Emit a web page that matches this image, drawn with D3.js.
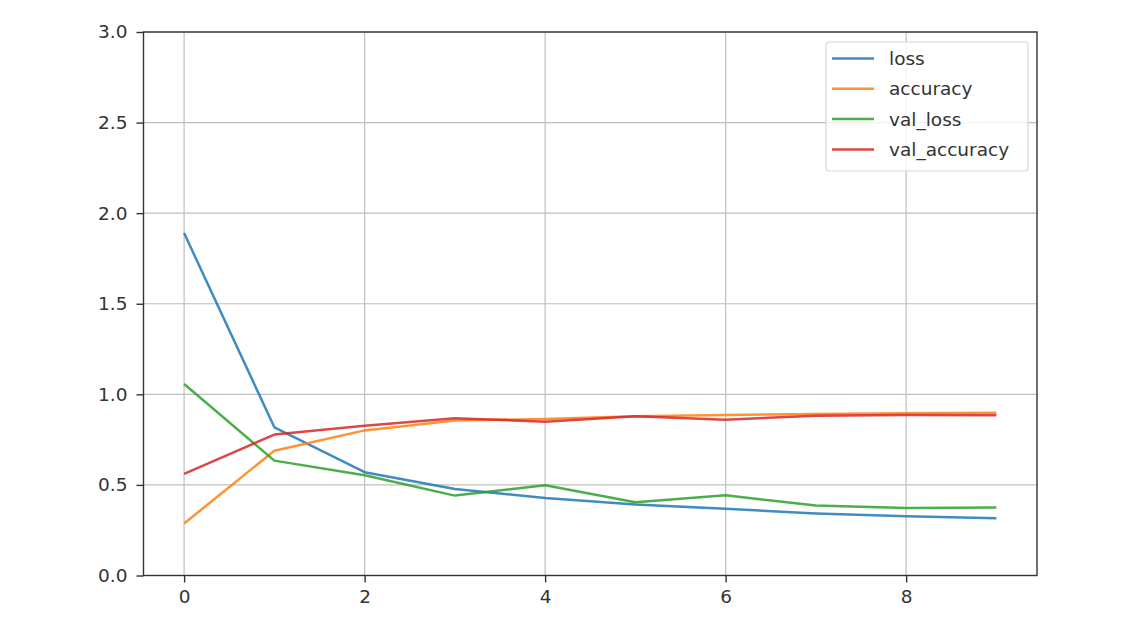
<!DOCTYPE html>
<html>
<head>
<meta charset="utf-8">
<script src="https://cdn.jsdelivr.net/npm/d3@7"></script>
<style>
  body { margin: 0; background: #fff; }
  svg text { font-family: "DejaVu Sans", sans-serif; }
</style>
</head>
<body>
<svg id="chart" width="1136" height="618"></svg>
<script>
var epochs = [0, 1, 2, 3, 4, 5, 6, 7, 8, 9];
var loss = [1.89, 0.818, 0.570, 0.478, 0.428, 0.392, 0.368, 0.342, 0.327, 0.316];
var accuracy = [0.287, 0.689, 0.801, 0.855, 0.864, 0.879, 0.886, 0.892, 0.895, 0.898];
var valLoss = [1.057, 0.634, 0.553, 0.441, 0.498, 0.404, 0.443, 0.386, 0.373, 0.375];
var valAccuracy = [0.561, 0.778, 0.827, 0.868, 0.849, 0.879, 0.860, 0.882, 0.886, 0.884];
var xTicks = [0, 2, 4, 6, 8];
var yTicks = [0, 0.5, 1.0, 1.5, 2.0, 2.5, 3.0];

var series = [
    { name: 'loss', values: loss, color: '#1f77b4' },
    { name: 'accuracy', values: accuracy, color: '#ff7f0e' },
    { name: 'val_loss', values: valLoss, color: '#2ca02c' },
    { name: 'val_accuracy', values: valAccuracy, color: '#d62728' }
];

var svg = d3.select('#chart'),
    plotLeft = 143.5, plotRight = 1037, plotTop = 32, plotBottom = 575.5,
    fontSize = '18.5px';

var x = d3.scaleLinear().domain([-0.45, 9.45]).range([plotLeft, plotRight]);
var y = d3.scaleLinear().domain([0, 3]).range([plotBottom, plotTop]);

// grid
var grid = svg.append('g').attr('stroke', '#b0b0b0').attr('stroke-width', 1.2).attr('opacity', 0.8);
xTicks.forEach(function( t ){
    grid.append('line').attr('x1', x(t)).attr('x2', x(t)).attr('y1', plotTop).attr('y2', plotBottom);
});
yTicks.forEach(function( t ){
    grid.append('line').attr('x1', plotLeft).attr('x2', plotRight).attr('y1', y(t)).attr('y2', y(t));
});

// axes
var xAxis = d3.axisBottom(x).tickValues(xTicks).tickFormat(d3.format('d')).tickSize(7).tickPadding(7);
var yAxis = d3.axisLeft(y).tickValues(yTicks).tickFormat(d3.format('.1f')).tickSize(7).tickPadding(9);

var gx = svg.append('g').attr('transform', 'translate(0,' + plotBottom + ')').call(xAxis);
var gy = svg.append('g').attr('transform', 'translate(' + plotLeft + ',0)').call(yAxis);
[gx, gy].forEach(function( g ){
    g.select('.domain').remove();
    g.selectAll('line').attr('stroke', '#333').attr('stroke-width', 1.4);
    g.selectAll('text').attr('fill', '#333').style('font-size', fontSize).style('font-family', '"DejaVu Sans", sans-serif');
});

// lines
var line = d3.line()
    .x(function( d, i ){ return x(epochs[i]); })
    .y(function( d ){ return y(d); });

series.forEach(function( s ){
    svg.append('path')
        .attr('d', line(s.values))
        .attr('fill', 'none')
        .attr('stroke', s.color)
        .attr('stroke-width', 2.5)
        .attr('stroke-linejoin', 'round')
        .attr('opacity', 0.85);
});

// frame
svg.append('rect')
    .attr('x', plotLeft).attr('y', plotTop)
    .attr('width', plotRight - plotLeft).attr('height', plotBottom - plotTop)
    .attr('fill', 'none').attr('stroke', '#333').attr('stroke-width', 1.4);

// legend
var lg = svg.append('g');
lg.append('rect')
    .attr('x', 826).attr('y', 42).attr('width', 202).attr('height', 129)
    .attr('rx', 3).attr('fill', 'rgba(255,255,255,0.8)')
    .attr('stroke', '#d8d8d8').attr('stroke-width', 1.2);
series.forEach(function( s, i ){
    var ly = 58.5 + i * 30.3;
    lg.append('line')
        .attr('x1', 832).attr('x2', 874).attr('y1', ly).attr('y2', ly)
        .attr('stroke', s.color).attr('stroke-width', 2.5).attr('opacity', 0.85);
    lg.append('text')
        .attr('x', 889).attr('y', ly).attr('dy', '0.35em')
        .attr('fill', '#333').style('font-size', fontSize)
        .text(s.name);
});
</script>
</body>
</html>
